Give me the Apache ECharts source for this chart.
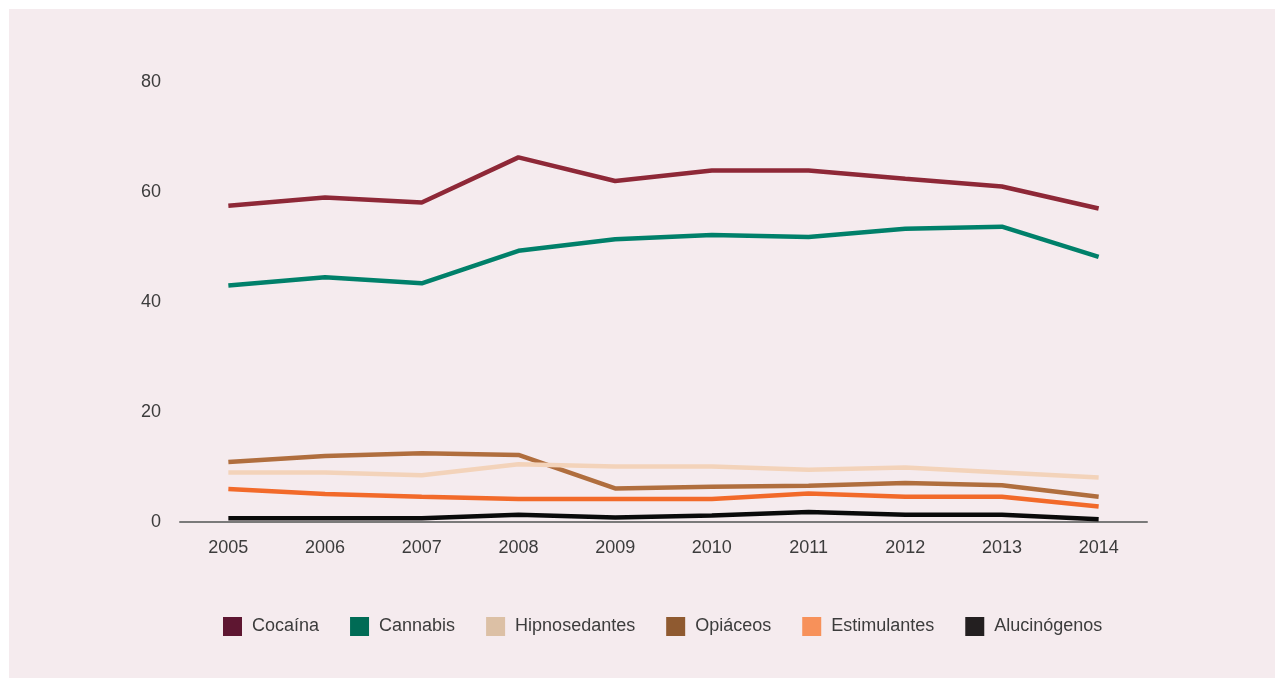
<!DOCTYPE html>
<html>
<head>
<meta charset="utf-8">
<script src="https://cdn.jsdelivr.net/npm/echarts@6/dist/echarts.min.js"></script>
<style>
html,body{margin:0;padding:0;background:#ffffff;}
#c{width:1284px;height:684px;}
</style>
</head>
<body>
<div id="c"></div>
<script>
var years = ['2005','2006','2007','2008','2009','2010','2011','2012','2013','2014'];
var cocaina = [57.5, 59.0, 58.1, 66.3, 62.0, 63.9, 63.9, 62.4, 61.0, 57.0];
var cannabis = [43.0, 44.5, 43.4, 49.3, 51.4, 52.2, 51.8, 53.3, 53.7, 48.2];
var hipnosedantes = [9.0, 9.0, 8.5, 10.5, 10.1, 10.1, 9.5, 9.9, 9.0, 8.1];
var opiaceos = [10.9, 12.0, 12.5, 12.2, 6.1, 6.4, 6.6, 7.1, 6.7, 4.6];
var estimulantes = [6.0, 5.1, 4.6, 4.2, 4.2, 4.2, 5.2, 4.6, 4.6, 2.8];
var alucinogenos = [0.7, 0.7, 0.7, 1.3, 0.8, 1.2, 1.8, 1.3, 1.3, 0.5];
var yTicks = [0, 20, 40, 60, 80];

var names = ['Cocaína','Cannabis','Hipnosedantes','Opiáceos','Estimulantes','Alucinógenos'];
var dataSets = [cocaina, cannabis, hipnosedantes, opiaceos, estimulantes, alucinogenos];
var lineColors = ['#8e2837','#00806a','#f3d3ba','#b06e3e','#f26a2a','#0a0a0a'];
var legendColors = ['#5e1631','#006b55','#dcc0a5','#8f5a30','#f7915a','#231f20'];

var chart = echarts.init(document.getElementById('c'), null, {renderer:'canvas'});
var series = names.map(function(n, i){
  return {
    name: n, type: 'line', data: dataSets[i],
    symbol: 'none', smooth: false,
    lineStyle: {color: lineColors[i], width: 4.5},
    itemStyle: {color: legendColors[i]},
    z: 10 - i
  };
});
chart.setOption({
  animation: false,
  backgroundColor: '#ffffff',
  graphic: [{type:'rect', z:-10, shape:{x:9,y:9,width:1266,height:669}, style:{fill:'#f5ebee'}}],
  grid: {left:180, right:137, top:82, bottom:162, containLabel:false},
  xAxis: {
    type:'category', data: years, boundaryGap: true,
    axisLine:{show:true, lineStyle:{color:'#7a7a7a', width:2}},
    axisTick:{show:false},
    axisLabel:{color:'#3c3c3c', fontSize:18, fontFamily:'Liberation Sans, Arial, sans-serif', margin:17}
  },
  yAxis: {
    type:'value', min: yTicks[0], max: yTicks[yTicks.length-1], interval: 20,
    axisLine:{show:false}, axisTick:{show:false}, splitLine:{show:false},
    axisLabel:{color:'#3c3c3c', fontSize:18, fontFamily:'Liberation Sans, Arial, sans-serif', margin:19}
  },
  legend: {
    data: names, left: 223, top: 617, padding: 0, icon: 'rect',
    itemWidth: 19, itemHeight: 19, itemGap: 31,
    textStyle:{color:'#3c3c3c', fontSize:18, fontFamily:'Liberation Sans, Arial, sans-serif', padding:[0,0,0,5]}
  },
  series: series
});
</script>
</body>
</html>
